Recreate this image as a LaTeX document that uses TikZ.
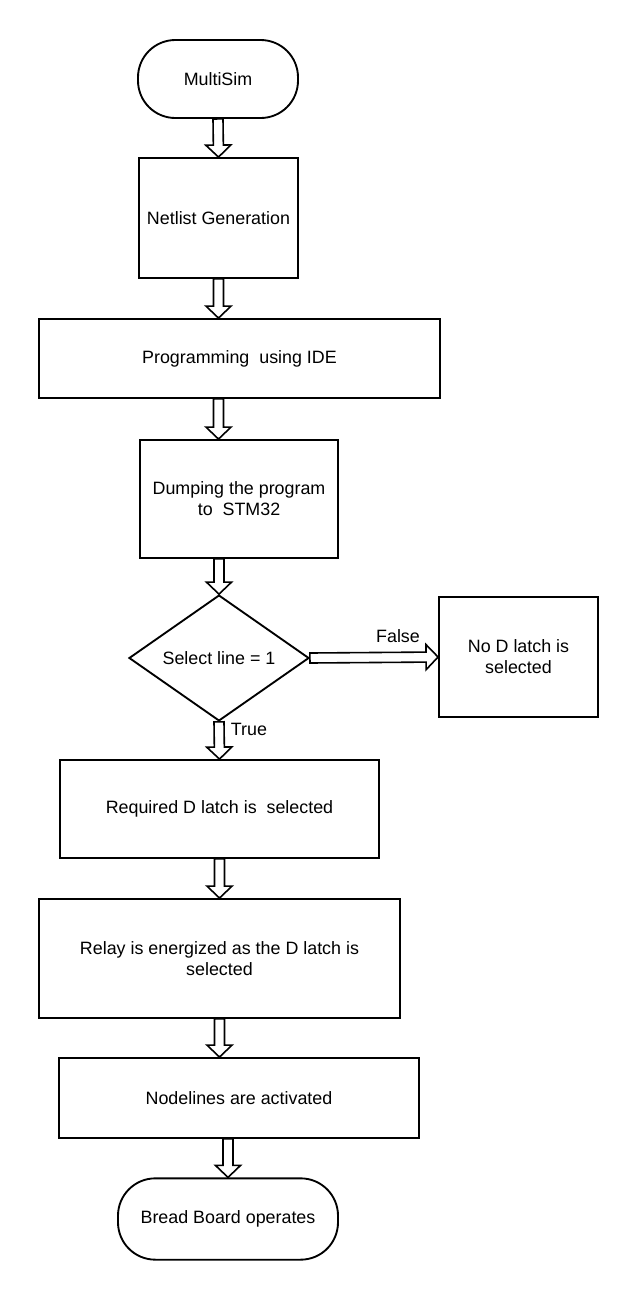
\documentclass[tikz,border=0pt]{standalone}
\usepackage{fontspec}
\setmainfont{Liberation Sans}
\usetikzlibrary{shapes.geometric,calc,backgrounds}
\newcommand\blockarr[2]{%
  \path (#1) coordinate (bs) (#2) coordinate (bt);
  \coordinate (bh) at ($(bt)!9pt!(bs)$);
  \draw[barr] ($(bs)!3.75pt!-90:(bt)$) -- ($(bh)!3.75pt!-90:(bt)$) -- ($(bh)!9.4pt!-90:(bt)$) -- (bt)
    -- ($(bh)!9.4pt!90:(bt)$) -- ($(bh)!3.75pt!90:(bt)$) -- ($(bs)!3.75pt!90:(bt)$) -- cycle;}
\begin{document}
\begin{tikzpicture}[x=0.75pt,y=-0.75pt,
  box/.style={draw, line width=1.4pt, rectangle, align=center, inner sep=0pt,
              font=\fontsize{13.4}{15.8}\selectfont},
  term/.style={box, rounded corners=28pt},
  dec/.style={box, diamond},
  barr/.style={draw, line width=1.2pt, fill=white, line join=miter},
  lbl/.style={font=\fontsize{13.4}{15.8}\selectfont, inner sep=0pt}
]
\useasboundingbox (0,0) rectangle (640,1304);
\node[term, minimum width=120pt, minimum height=58.5pt] (ms) at (218,79) {MultiSim};
\node[box, minimum width=119.25pt, minimum height=90pt] (ng) at (218.5,218) {Netlist Generation};
\node[box, minimum width=300.75pt, minimum height=59.25pt] (pr) at (239.5,358.5) {Programming\ \ using IDE};
\node[box, minimum width=148.5pt, minimum height=88.5pt] (dp) at (239,499) {Dumping the program\\to\ \ STM32};
\node[dec, minimum width=135pt, minimum height=90pt] (dc) at (219,658) {Select line = 1};
\node[box, minimum width=119.25pt, minimum height=90pt] (nd) at (518.5,657) {No D latch is\\selected};
\node[box, minimum width=239.25pt, minimum height=73.5pt] (rq) at (219.5,809) {Required D latch is\ \ selected};
\node[box, minimum width=270.75pt, minimum height=89.25pt] (rl) at (219.5,958.5) {Relay is energized as the D latch is\\selected};
\node[box, minimum width=270pt, minimum height=60pt] (nl) at (239,1098) {Nodelines are activated};
\node[term, minimum width=165pt, minimum height=61pt] (bb) at (228,1219) {Bread Board operates};
\node[lbl] (fl) at (398,636) {False};
\node[lbl] (tl) at (249,729) {True};
\begin{scope}[on background layer]
\blockarr{ms.south}{ng.north}
\blockarr{ng.south}{pr.north -| ng.south}
\blockarr{pr.south -| ng.south}{dp.north -| ng.south}
\blockarr{dp.south -| dc.north}{dc.north}
\blockarr{dc.east}{nd.west}
\blockarr{dc.south}{rq.north}
\blockarr{rq.south}{rl.north}
\blockarr{rl.south}{nl.north -| rl.south}
\blockarr{nl.south -| bb.north}{bb.north}
\end{scope}
\end{tikzpicture}
\end{document}
